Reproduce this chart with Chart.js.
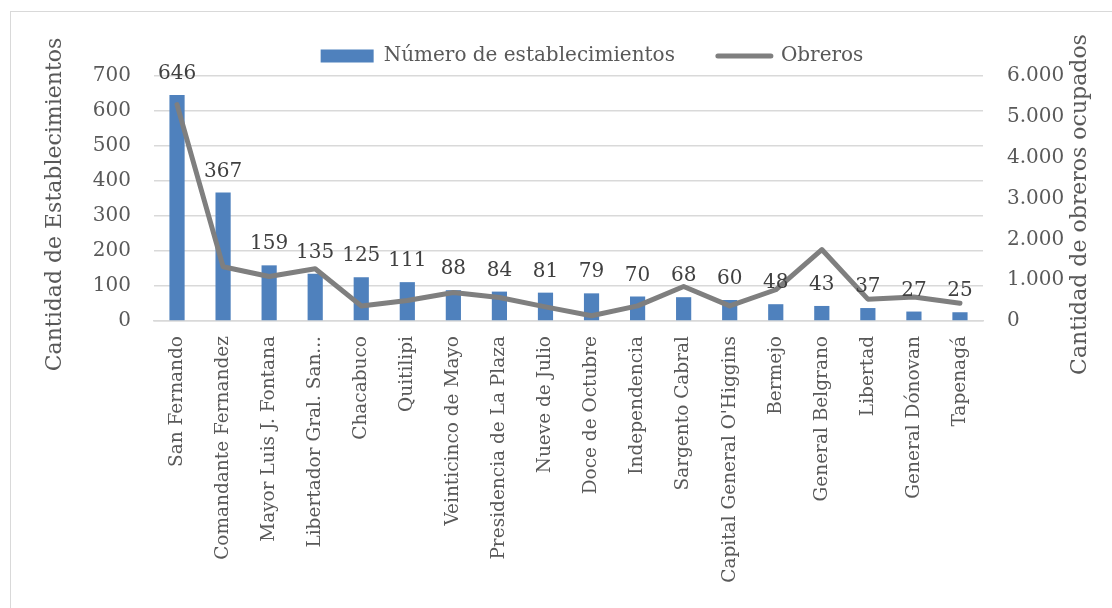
<!DOCTYPE html>
<html><head><meta charset="utf-8">
<script src="https://cdn.jsdelivr.net/npm/chart.js@4.4.0/dist/chart.umd.min.js"></script>
<style>
html,body{margin:0;padding:0;background:#fff;width:1112px;height:608px;overflow:hidden;}
#frame{position:absolute;left:10px;top:11px;width:1200px;height:700px;border:1px solid #d9d9d9;}
#wrap{position:absolute;left:0;top:0;width:1112px;height:608px;}
</style></head><body>
<div id="frame"></div>
<div id="wrap"><canvas id="c" width="1112" height="608"></canvas></div>
<script>
const categories = ["San Fernando","Comandante Fernandez","Mayor Luis J. Fontana","Libertador Gral. San...","Chacabuco","Quitilipi","Veinticinco de Mayo","Presidencia de La Plaza","Nueve de Julio","Doce de Octubre","Independencia","Sargento Cabral","Capital General O'Higgins","Bermejo","General Belgrano","Libertad","General Dónovan","Tapenagá"];
const establecimientos = [646,367,159,135,125,111,88,84,81,79,70,68,60,48,43,37,27,25];
const obreros = [5300,1330,1090,1280,370,500,700,575,345,130,370,845,370,765,1750,535,590,435];
const leftTickLabels = ["0","100","200","300","400","500","600","700"];
const rightTickLabels = ["0","1.000","2.000","3.000","4.000","5.000","6.000"];
const seriesNames = ["Número de establecimientos","Obreros"];
const axisTitles = ["Cantidad de Establecimientos","Cantidad de obreros ocupados"];

const FONT = '"DejaVu Serif", serif';
const TXT = '#595959';
const LEGEND_SHIFT = 36;

const custom = {
  id: 'custom',
  afterLayout(chart) {
    const lg = chart.legend;
    if (lg) { lg.left += LEGEND_SHIFT; lg.right += LEGEND_SHIFT; }
  },
  afterDatasetsDraw(chart) {
    const ctx = chart.ctx;
    const meta = chart.getDatasetMeta(0);
    ctx.save();
    ctx.font = '20px ' + FONT;
    ctx.fillStyle = '#404040';
    ctx.textAlign = 'center';
    ctx.textBaseline = 'alphabetic';
    meta.data.forEach((el, i) => {
      ctx.fillText(String(chart.data.datasets[0].data[i]), el.x, el.y - 16);
    });
    ctx.restore();
  },
  afterDraw(chart) {
    const ctx = chart.ctx;
    const ca = chart.chartArea;
    const cy = (ca.top + ca.bottom) / 2 + 6;
    const yl = chart.scales.y, yr = chart.scales.y1;
    ctx.save();
    ctx.font = '22px ' + FONT;
    ctx.fillStyle = TXT;
    ctx.textAlign = 'center';
    ctx.textBaseline = 'middle';
    [[yl.left + 55, axisTitles[0]], [yr.right - 32, axisTitles[1]]].forEach(([x, t]) => {
      ctx.save();
      ctx.translate(x, cy);
      ctx.rotate(-Math.PI / 2);
      ctx.fillText(t, 0, 0);
      ctx.restore();
    });
    ctx.restore();
  }
};

new Chart(document.getElementById('c'), {
  type: 'bar',
  data: {
    labels: categories,
    datasets: [
      {
        type: 'bar', label: seriesNames[0], data: establecimientos, yAxisID: 'y',
        backgroundColor: '#4f81bd', borderWidth: 0,
        categoryPercentage: 1, barPercentage: 0.33, order: 2
      },
      {
        type: 'line', label: seriesNames[1], data: obreros, yAxisID: 'y1',
        borderColor: '#7f7f7f', backgroundColor: '#7f7f7f', borderWidth: 5,
        pointRadius: 0, tension: 0, borderJoinStyle: 'round', borderCapStyle: 'round',
        fill: false, order: 1
      }
    ]
  },
  options: {
    responsive: false,
    animation: false,
    layout: { padding: { top: 3, left: 0, right: 0, bottom: 0 } },
    plugins: {
      legend: {
        position: 'top',
        maxHeight: 82,
        labels: {
          font: { family: FONT, size: 20 },
          color: TXT,
          usePointStyle: true,
          pointStyleWidth: 53,
          boxHeight: 13,
          padding: 43,
          sort: (a, b) => a.datasetIndex - b.datasetIndex,
          generateLabels(chart) {
            const items = Chart.defaults.plugins.legend.labels.generateLabels(chart);
            items.forEach(it => {
              if (it.datasetIndex === 0) {
                it.pointStyle = 'rect'; it.lineWidth = 0; it.fillStyle = '#4f81bd'; it.strokeStyle = '#4f81bd';
              } else {
                it.pointStyle = 'line'; it.lineWidth = 5; it.strokeStyle = '#7f7f7f'; it.lineCap = 'round';
              }
            });
            return items;
          }
        }
      },
      tooltip: { enabled: false }
    },
    scales: {
      x: {
        grid: { display: false },
        border: { display: true, color: '#d9d9d9', width: 1.5 },
        ticks: { autoSkip: false, minRotation: 90, maxRotation: 90, padding: 7, font: { family: FONT, size: 18.5 }, color: TXT },
        afterFit(s) { s.height = 287; }
      },
      y: {
        position: 'left', min: 0, max: 700,
        grid: { color: '#d9d9d9', lineWidth: 1.5, drawTicks: false },
        border: { display: false },
        ticks: { stepSize: 100, padding: 23, font: { family: FONT, size: 20 }, color: TXT,
          callback: (v, i) => leftTickLabels[i] },
        afterFit(s) { s.width = 154; }
      },
      y1: {
        position: 'right', min: 0, max: 6000,
        grid: { display: false, drawTicks: false },
        border: { display: false },
        ticks: { stepSize: 1000, padding: 24, font: { family: FONT, size: 20 }, color: TXT,
          callback: (v, i) => rightTickLabels[i] },
        afterFit(s) { s.width = 129; }
      }
    }
  },
  plugins: [custom]
});
</script>
</body></html>
